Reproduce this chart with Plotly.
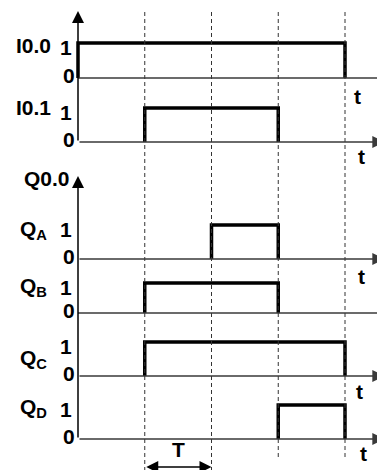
import plotly.graph_objs as go

# signal states over the four T intervals after t=0
intervals = [1, 2, 3, 4]
signal_names = ["I0.0", "I0.1", "Q<sub>A</sub>", "Q<sub>B</sub>", "Q<sub>C</sub>", "Q<sub>D</sub>"]
I0_0 = [1, 1, 1, 1]
I0_1 = [0, 1, 1, 0]
Q_A = [0, 0, 1, 0]
Q_B = [0, 1, 1, 0]
Q_C = [0, 1, 1, 1]
Q_D = [0, 0, 0, 1]
states = [I0_0, I0_1, Q_A, Q_B, Q_C, Q_D]
dash_times = [1, 2, 3, 4]
T_span = [1, 2]

# layout of the rows (page pixel frame, page body has an 8px margin)
PAD = 8
W, H = 385 - PAD, 470 - PAD
X0, TPX = 78 - PAD, 66.75
bases = [78, 142, 259, 313, 376, 439]
highs = [43, 108, 225, 283, 342, 405]
name_y = [45, 107, 230, 287, 359, 408]
axis_arrow = [False, True, True, False, True, True]
t_label = [(4.19, 96), (4.25, 156), (4.24, 276), None, (4.22, 391), (4.28, 453)]
FONT = dict(family="Liberation Sans, Arial", size=21, color="black", weight="bold")
AX = "#3a3a3a"

fig = go.Figure()

# pulses
for st, b, h in zip(states, bases, highs):
    on = [i for i, v in enumerate(st) if v]
    s, e = on[0], on[-1] + 1
    fig.add_trace(go.Scatter(x=[s, s, e, e], y=[b, h, h, b], mode="lines",
                             line=dict(color="black", width=3.5), hoverinfo="skip",
                             showlegend=False))

xmax = (W - X0) / TPX
shapes = []
ann = []
# dashed time markers
for t in dash_times:
    shapes.append(dict(type="line", x0=t, x1=t, y0=12, y1=470 if t <= 2 else 458,
                       xref="x", yref="y", line=dict(color="#333", width=1, dash="4px,3px")))

# time axes
for b, arr in zip(bases, axis_arrow):
    if arr:
        ann.append(dict(x=xmax - 0.01, y=b, ax=0, ay=b, xref="x", yref="y", axref="x", ayref="y",
                        showarrow=True, arrowhead=2, arrowsize=1.6, arrowwidth=1.5,
                        arrowcolor=AX, text=""))
    else:
        shapes.append(dict(type="line", x0=0, x1=xmax, y0=b, y1=b, xref="x", yref="y",
                           line=dict(color=AX, width=1.5)))

# vertical axes
for y0, y1 in [(142, 11), (439, 176)]:
    ann.append(dict(x=0, y=y1, ax=0, ay=y0, xref="x", yref="y", axref="x", ayref="y",
                    showarrow=True, arrowhead=2, arrowsize=1.6, arrowwidth=1.5,
                    arrowcolor="black", text=""))

# labels
def label(x, y, txt, xref="paper"):
    ann.append(dict(x=(x - PAD) / W if xref == "paper" else x, y=y, xref=xref, yref="y",
                    text=txt, showarrow=False, font=FONT, xanchor="center", yanchor="middle"))

for nm, ny, b, h in zip(signal_names, name_y, bases, highs):
    label(33, ny, nm)
    label(66, h + 4, "1")
    label(69, b - 3, "0")
label(47, 178, "Q0.0")
for tl in t_label:
    if tl:
        label(tl[0], tl[1], "t", xref="x")

# T span arrow
ann.append(dict(x=T_span[1], y=467, ax=T_span[0], ay=467, xref="x", yref="y", axref="x",
                ayref="y", showarrow=True, arrowhead=2, arrowside="end+start", arrowsize=1.6,
                arrowwidth=1.5, arrowcolor="black", text=""))
label((T_span[0] + T_span[1]) / 2, 449, "T", xref="x")

fig.update_layout(width=W, height=H, margin=dict(l=0, r=0, t=0, b=0),
                  paper_bgcolor="white", plot_bgcolor="white", shapes=shapes, annotations=ann,
                  xaxis=dict(range=[-X0 / TPX, xmax], visible=False),
                  yaxis=dict(range=[H + PAD, PAD], visible=False))
fig.write_html("out.html")
